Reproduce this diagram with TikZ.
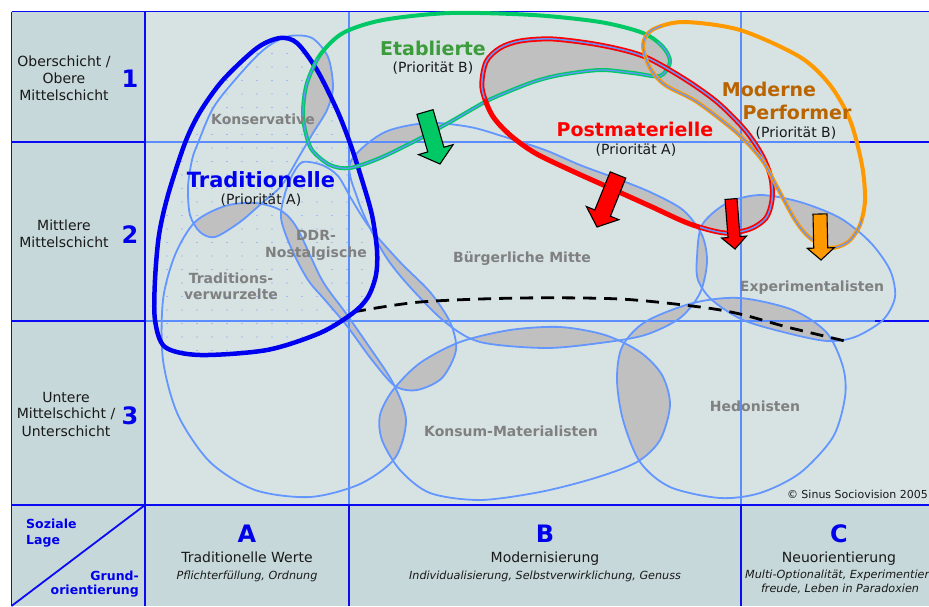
\documentclass[tikz,border=0pt]{standalone}
\usepackage{fontspec}
\setmainfont{DejaVu Sans}[ItalicFont={DejaVu Sans Oblique},BoldFont={DejaVu Sans Bold},BoldItalicFont={DejaVu Sans Bold Oblique}]
\usetikzlibrary{calc}
\definecolor{bgmain}{RGB}{215,227,227}
\definecolor{bgside}{RGB}{199,216,218}
\definecolor{framedarkc}{RGB}{10,10,245}
\definecolor{gridlightc}{RGB}{90,140,255}
\definecolor{milieublue}{RGB}{100,150,255}
\definecolor{overlapgray}{RGB}{192,192,192}
\definecolor{dotblue}{RGB}{110,150,255}
\definecolor{etgreen}{RGB}{0,200,100}
\definecolor{mporange}{RGB}{255,153,0}
\definecolor{tgblue}{RGB}{0,0,240}
\definecolor{textblack}{RGB}{25,25,25}
\definecolor{numblue}{RGB}{0,0,235}
\definecolor{milieugray}{RGB}{128,128,128}
\definecolor{etlabel}{RGB}{60,156,60}
\definecolor{mplabel}{RGB}{185,100,0}
\definecolor{pmred}{RGB}{255,0,0}

\def\KonsPath{plot[smooth cycle] coordinates {(290,36) (312,38) (328,57) (333,87) (327,110) (313,133) (300,155) (282,185) (262,203) (240,222) (215,237) (200,232) (190,215) (188,187) (192,160) (198,143) (215,105) (250,63) (270,45)}}
\def\TradPath{plot[smooth cycle] coordinates {(255,203) (280,210) (297,228) (322,280) (345,312) (368,345) (393,383) (406,420) (395,458) (360,484) (310,497) (255,490) (210,462) (178,415) (163,360) (163,300) (175,255) (195,222) (225,206)}}
\def\DDRPath{plot[smooth cycle] coordinates {(303,162) (322,165) (338,176) (352,200) (370,228) (400,262) (430,292) (450,322) (456,350) (442,378) (417,390) (395,386) (372,360) (347,326) (325,300) (308,280) (292,250) (281,218) (286,190) (294,172)}}
\def\BurgPath{plot[smooth cycle] coordinates {(350,163) (383,133) (427,123) (470,127) (505,137) (545,150) (580,165) (615,178) (650,192) (683,210) (702,235) (707,262) (700,293) (680,318) (645,335) (600,343) (545,348) (480,342) (445,322) (410,287) (388,260) (372,232) (358,200)}}
\def\KonsumPath{plot[smooth cycle] coordinates {(393,390) (420,363) (460,342) (510,330) (560,327) (605,335) (640,352) (662,375) (670,405) (660,440) (637,462) (595,478) (540,492) (480,500) (430,493) (400,470) (382,440) (380,415)}}
\def\HedPath{plot[smooth cycle] coordinates {(617,380) (622,347) (645,322) (693,303) (740,298) (793,310) (827,333) (843,367) (845,397) (833,437) (800,473) (760,493) (720,498) (670,487) (640,462) (623,420)}}
\def\ExpPath{plot[smooth cycle] coordinates {(697,257) (702,225) (727,203) (760,195) (800,202) (840,218) (870,242) (890,270) (895,297) (883,320) (855,337) (827,341) (787,333) (743,320) (712,300) (698,280)}}
\def\EtabPath{plot[smooth cycle] coordinates {(303,110) (307,83) (320,55) (343,33) (383,20) (450,13) (533,15) (600,22) (643,33) (663,47) (670,62) (660,76) (633,73) (600,70) (560,75) (533,82) (500,95) (483,103) (450,122) (417,140) (380,158) (350,168) (330,165) (312,150) (305,130)}}
\def\PostPath{plot[smooth cycle] coordinates {(482,88) (486,62) (500,48) (520,41) (553,39) (600,45) (643,56) (683,78) (717,102) (745,130) (762,155) (771,178) (772,200) (766,218) (750,229) (725,233) (690,224) (650,206) (610,188) (570,170) (535,153) (510,135) (492,115)}}
\def\MPPath{plot[smooth cycle] coordinates {(643,45) (652,30) (683,22) (740,30) (800,57) (830,85) (850,120) (862,165) (865,200) (860,225) (848,242) (830,248) (810,238) (795,220) (776,185) (762,160) (737,133) (697,102) (665,85) (650,68)}}
\def\TradTGPath{plot[smooth cycle] coordinates {(280,38) (297,43) (317,70) (337,110) (350,143) (362,180) (372,215) (377,250) (376,275) (368,297) (353,313) (320,333) (267,350) (200,355) (165,347) (155,320) (155,280) (159,235) (168,195) (185,143) (200,112) (223,80) (257,48)}}

\newcommand{\grayoverlap}[2]{\begin{scope}\clip #1;\fill[overlapgray] #2;\end{scope}}
\newcommand{\blockarrow}[6]{%
  \path ($(#3)!#6!(#2)$) coordinate (#3b);
  \filldraw[fill=#1, draw=black, line width=1.1pt, line join=miter]
    ($(#2)!#4!90:(#3)$) -- ($(#3b)!#4!90:(#3)$) -- ($(#3b)!#5!90:(#3)$) -- (#3)
    -- ($(#3b)!#5!-90:(#3)$) -- ($(#3b)!#4!-90:(#3)$) -- ($(#2)!#4!-90:(#3)$) -- cycle;}

\begin{document}
\begin{tikzpicture}[x=1pt,y=-1pt,
  framedark/.style={draw=framedarkc, line width=1.8pt},
  gridlight/.style={draw=gridlightc, line width=1.8pt},
  milieu/.style={draw=milieublue, line width=1.8pt},
  dashline/.style={draw=black, line width=2.8pt, dash pattern=on 13pt off 8pt},
  rowtext/.style={font=\fontsize{14}{17}\selectfont, text=textblack, anchor=base, inner sep=0pt},
  bignum/.style={font=\fontsize{24}{28}\selectfont\bfseries, text=numblue, anchor=base, inner sep=0pt},
  italtext/.style={font=\fontsize{11.2}{13}\selectfont\itshape, text=textblack, anchor=base, inner sep=0pt},
  milieulabel/.style={font=\fontsize{14}{17}\selectfont\bfseries, text=milieugray, anchor=base, inner sep=0pt},
  tglabel/.style={font=\fontsize{19}{22}\selectfont\bfseries, anchor=base, inner sep=0pt},
  cornerlabel/.style={font=\fontsize{12.5}{15}\selectfont\bfseries, text=numblue, inner sep=0pt},
  copytext/.style={font=\fontsize{11}{13}\selectfont, text=textblack, inner sep=0pt}]
\useasboundingbox (0,0) rectangle (929,606);
\fill[white] (0,0) rectangle (929,606);
\fill[bgside] (11.5,11.5) rectangle (145,606);
\fill[bgside] (145,505) rectangle (929,606);
\fill[bgmain] (145,11.5) rectangle (929,505);

% dotted texture inside the Traditionelle outline
\begin{scope}
  \clip \TradTGPath;
  \foreach \x in {152,167,...,392}{\foreach \y in {40,53.5,...,362}{\fill[dotblue] (\x,\y) circle (0.7pt);}}
\end{scope}

% overlaps of milieus
\grayoverlap{\KonsPath}{\EtabPath}
\grayoverlap{\KonsPath}{\TradPath}
\grayoverlap{\TradPath}{\DDRPath}
\grayoverlap{\TradPath}{\KonsumPath}
\grayoverlap{\DDRPath}{\BurgPath}
\grayoverlap{\DDRPath}{\KonsumPath}
\grayoverlap{\BurgPath}{\EtabPath}
\grayoverlap{\BurgPath}{\PostPath}
\grayoverlap{\BurgPath}{\KonsumPath}
\grayoverlap{\BurgPath}{\HedPath}
\grayoverlap{\BurgPath}{\ExpPath}
\grayoverlap{\KonsumPath}{\HedPath}
\grayoverlap{\HedPath}{\ExpPath}
\grayoverlap{\ExpPath}{\PostPath}
\grayoverlap{\ExpPath}{\MPPath}
\grayoverlap{\EtabPath}{\PostPath}
\grayoverlap{\EtabPath}{\MPPath}
\grayoverlap{\PostPath}{\MPPath}

% grid
\draw[gridlight] (145,142) -- (850,142);
\draw[gridlight] (145,321) -- (875,321);
\draw[gridlight] (349,11.5) -- (349,505);
\draw[gridlight] (741,11.5) -- (741,505);
\draw[framedark] (850,142) -- (929,142);
\draw[framedark] (875,321) -- (929,321);
\draw[framedark] (349,505) -- (349,606);
\draw[framedark] (741,505) -- (741,606);
\draw[framedark] (11.5,142) -- (145,142);
\draw[framedark] (11.5,321) -- (145,321);
\draw[framedark] (11.5,505) -- (929,505);
\draw[framedark] (145,11.5) -- (145,606);
\draw[framedark] (11.5,11.5) -- (929,11.5);
\draw[framedark] (11.5,11.5) -- (11.5,606);
\draw[framedark] (145,505) -- (11.5,606);

% milieu outlines
\draw[milieu] \KonsPath;
\draw[milieu] \TradPath;
\draw[milieu] \DDRPath;
\draw[milieu] \BurgPath;
\draw[milieu] \KonsumPath;
\draw[milieu] \HedPath;
\draw[milieu] \ExpPath;

% boundary line
\draw[dashline] plot[smooth] coordinates {(353,312) (420,302) (520,298) (620,299) (700,307) (740,314) (787,327) (845,341)};

% target group outlines
\draw[tgblue, line width=4.5pt] \TradTGPath;
\draw[etgreen, line width=4pt] \EtabPath;
\begin{scope}
  \clip (280,58) -- (480,58) -- (600,42) -- (690,42) -- (690,200) -- (280,200) -- cycle;
  \draw[milieublue, line width=1.3pt] \EtabPath;
\end{scope}
\draw[pmred, line width=5pt] \PostPath;
\begin{scope}
  \clip (470,20) -- (800,20) -- (800,260) -- (700,260) -- (700,215) -- (478,95) -- cycle;
  \draw[milieublue, line width=1.5pt] \PostPath;
\end{scope}
\draw[mporange, line width=4pt] \MPPath;
\begin{scope}
  \clip (630,20) -- (655,20) -- (880,235) -- (880,270) -- (630,270) -- cycle;
  \draw[milieublue, line width=1.3pt] \MPPath;
\end{scope}

% arrows
\coordinate (gtail) at (425,112); \coordinate (gtip) at (440,164);
\coordinate (rtail) at (618,175); \coordinate (rtip) at (597,227);
\coordinate (qtail) at (731,199); \coordinate (qtip) at (735,249);
\coordinate (otail) at (820,214); \coordinate (otip) at (821,260);
\blockarrow{etgreen}{gtail}{gtip}{8.4pt}{18pt}{15pt}
\blockarrow{pmred}{rtail}{rtip}{8.4pt}{17.5pt}{15pt}
\blockarrow{pmred}{qtail}{qtip}{6pt}{12.5pt}{12pt}
\blockarrow{mporange}{otail}{otip}{7pt}{13.5pt}{12pt}

% row labels
\node[rowtext] (r1a) at (64,66) {Oberschicht /};
\node[rowtext] (r1b) at (64,83) {Obere};
\node[rowtext] (r1c) at (64,100) {Mittelschicht};
\node[bignum] (n1) at (130,87) {1};
\node[rowtext] (r2a) at (64,230) {Mittlere};
\node[rowtext] (r2b) at (64,247) {Mittelschicht};
\node[bignum] (n2) at (130,243) {2};
\node[rowtext] (r3a) at (66,402) {Untere};
\node[rowtext] (r3b) at (66,418) {Mittelschicht /};
\node[rowtext] (r3c) at (66,436) {Unterschicht};
\node[bignum] (n3) at (130,424) {3};

% corner cell
\node[cornerlabel, anchor=base west] (sl1) at (26,528) {Soziale};
\node[cornerlabel, anchor=base west] (sl2) at (26,544) {Lage};
\node[cornerlabel, anchor=base east] (go1) at (139,580) {Grund-};
\node[cornerlabel, anchor=base east] (go2) at (139,594) {orientierung};

% column labels
\node[bignum] (ca) at (247,542) {A};
\node[rowtext] (cat) at (247,562) {Traditionelle Werte};
\node[italtext] (cai) at (247,579) {Pflichterfüllung, Ordnung};
\node[bignum] (cb) at (545,542) {B};
\node[rowtext] (cbt) at (545,562) {Modernisierung};
\node[italtext] (cbi) at (545,579) {Individualisierung, Selbstverwirklichung, Genuss};
\node[bignum] (cc) at (839,542) {C};
\node[rowtext] (cct) at (839,562) {Neuorientierung};
\node[italtext, anchor=base west] (cci) at (745,578) {Multi-Optionalität, Experimentier};
\node[italtext] (cci2) at (840,592) {freude, Leben in Paradoxien};
\node[copytext, anchor=base east] (copy) at (928,498) {© Sinus Sociovision 2005};

% milieu labels
\node[milieulabel] (lkons) at (263,124) {Konservative};
\node[milieulabel] (ltrad1) at (231,283) {Traditions-};
\node[milieulabel] (ltrad2) at (231,299) {verwurzelte};
\node[milieulabel] (lddr1) at (316,240) {DDR-};
\node[milieulabel] (lddr2) at (316,257) {Nostalgische};
\node[milieulabel] (lburg) at (522,262) {Bürgerliche Mitte};
\node[milieulabel] (lexp) at (812,291) {Experimentalisten};
\node[milieulabel] (lkonsum) at (511,436) {Konsum-Materialisten};
\node[milieulabel] (lhed) at (755,411) {Hedonisten};

% target group labels
\node[tglabel, font=\fontsize{21}{24}\selectfont\bfseries, text=tgblue] (ttrad) at (261,187) {Traditionelle};
\node[rowtext] (ptrad) at (261,204) {(Priorität A)};
\node[tglabel, text=etlabel] (tetab) at (433,55) {Etablierte};
\node[rowtext] (petab) at (433,72) {(Priorität B)};
\node[tglabel, text=pmred] (tpost) at (635,136) {Postmaterielle};
\node[rowtext] (ppost) at (636,154) {(Priorität A)};
\node[tglabel, text=mplabel] (tmp1) at (769,96) {Moderne};
\node[tglabel, text=mplabel] (tmp2) at (797,119) {Performer};
\node[rowtext] (pmp) at (796,137) {(Priorität B)};
\end{tikzpicture}
\end{document}
